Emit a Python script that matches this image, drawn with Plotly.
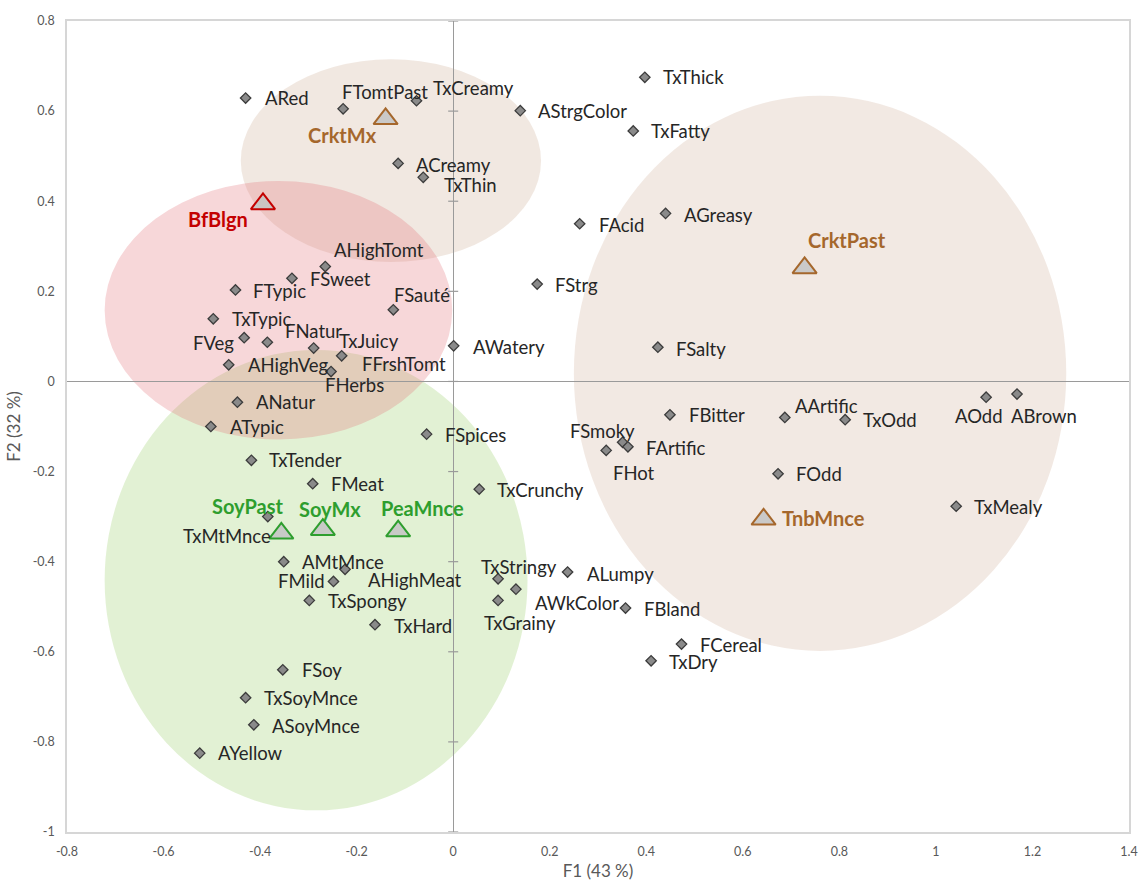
import plotly.graph_objects as go

# ---- sensory attributes (F1 / F2 coordinates) ----
attr_names = [
    "ARed", "FTomtPast", "TxCreamy", "AStrgColor", "TxThick", "TxFatty",
    "ACreamy", "TxThin", "FAcid", "AGreasy", "FStrg", "AHighTomt", "FSweet",
    "FTypic", "FSauté", "TxTypic", "FVeg", "FNatur", "TxJuicy", "FFrshTomt",
    "FHerbs", "AHighVeg", "AWatery", "FSalty", "ANatur", "ATypic", "FSpices",
    "FBitter", "AArtific", "TxOdd", "AOdd", "ABrown", "FSmoky", "FArtific",
    "FHot", "FOdd", "TxCrunchy", "TxMealy", "ALumpy", "TxStringy", "AWkColor",
    "TxGrainy", "FBland", "FCereal", "TxDry", "TxTender", "FMeat", "TxMtMnce",
    "AMtMnce", "AHighMeat", "FMild", "TxSpongy", "TxHard", "FSoy",
    "TxSoyMnce", "ASoyMnce", "AYellow",
]
attr_f1 = [
    -0.430, -0.228, -0.076, 0.139, 0.397, 0.373,
    -0.114, -0.062, 0.262, 0.440, 0.174, -0.265, -0.334,
    -0.451, -0.124, -0.497, -0.433, -0.385, -0.289, -0.231,
    -0.253, -0.465, 0.001, 0.424, -0.447, -0.502, -0.055,
    0.449, 0.687, 0.812, 1.104, 1.168, 0.351, 0.362,
    0.317, 0.673, 0.054, 1.042, 0.237, 0.093, 0.130,
    0.093, 0.357, 0.473, 0.410, -0.418, -0.291, -0.384,
    -0.351, -0.224, -0.248, -0.298, -0.162, -0.353,
    -0.430, -0.413, -0.525,
]
attr_f2 = [
    0.629, 0.605, 0.623, 0.601, 0.675, 0.556,
    0.484, 0.453, 0.350, 0.373, 0.216, 0.255, 0.229,
    0.203, 0.159, 0.139, 0.097, 0.087, 0.074, 0.057,
    0.022, 0.037, 0.079, 0.076, -0.046, -0.100, -0.117,
    -0.074, -0.080, -0.085, -0.035, -0.028, -0.135, -0.145,
    -0.153, -0.205, -0.239, -0.277, -0.423, -0.438, -0.461,
    -0.486, -0.503, -0.583, -0.620, -0.175, -0.227, -0.300,
    -0.400, -0.417, -0.444, -0.486, -0.540, -0.640,
    -0.702, -0.762, -0.825,
]

# ---- products ----
prod_names = ["CrktMx", "BfBlgn", "SoyPast", "SoyMx", "PeaMnce", "CrktPast", "TnbMnce"]
prod_f1 = [-0.140, -0.394, -0.356, -0.270, -0.114, 0.728, 0.643]
prod_f2 = [0.583, 0.394, -0.337, -0.329, -0.332, 0.252, -0.306]

# ---- confidence ellipses: centre and semi-axes ----
ell_cx = [-0.284, 0.760, -0.129, -0.362]
ell_cy = [-0.441, 0.018, 0.490, 0.158]
ell_rx = [0.438, 0.510, 0.311, 0.360]
ell_ry = [0.511, 0.616, 0.225, 0.287]

# ---- axis ticks ----
x_ticks = [-0.8, -0.6, -0.4, -0.2, 0, 0.2, 0.4, 0.6, 0.8, 1, 1.2, 1.4]
x_tick_text = ["-0.8", "-0.6", "-0.4", "-0.2", "0", "0.2", "0.4", "0.6", "0.8", "1", "1.2", "1.4"]
y_ticks = [-1, -0.8, -0.6, -0.4, -0.2, 0, 0.2, 0.4, 0.6, 0.8]
y_tick_text = ["-1", "-0.8", "-0.6", "-0.4", "-0.2", "0", "0.2", "0.4", "0.6", "0.8"]

# styling
ell_fill = ["rgba(150,205,100,0.28)", "rgba(200,165,140,0.24)",
            "rgba(200,165,140,0.26)", "rgba(225,110,120,0.28)"]
BROWN = "#a5672c"
RED = "#c40000"
GREEN = "#2e9e2e"
prod_color = {"CrktMx": BROWN, "BfBlgn": RED, "SoyPast": GREEN, "SoyMx": GREEN,
              "PeaMnce": GREEN, "CrktPast": BROWN, "TnbMnce": BROWN}

# label placement: (anchor, dx, dy) in pixels relative to the marker
attr_lab = {
    "ARed": ("l", 17, 0), "FTomtPast": ("l", -3, -17), "TxCreamy": ("l", 15, -13),
    "AStrgColor": ("l", 16, 0), "TxThick": ("l", 16, 0), "TxFatty": ("l", 16, 0),
    "ACreamy": ("l", 16, 2), "TxThin": ("l", 19, 8), "FAcid": ("l", 17, 1),
    "AGreasy": ("l", 16, 2), "FStrg": ("l", 16, 1), "AHighTomt": ("l", 7, -17),
    "FSweet": ("l", 16, 1), "FTypic": ("l", 16, 1), "FSauté": ("l", -1, -15),
    "TxTypic": ("l", 17, 0), "FVeg": ("r", -8, 5), "FNatur": ("l", 16, -11),
    "TxJuicy": ("l", 23, -7), "FFrshTomt": ("l", 18, 8), "FHerbs": ("l", -8, 13),
    "AHighVeg": ("l", 17, 0), "AWatery": ("l", 17, 1), "FSalty": ("l", 16, 2),
    "ANatur": ("l", 17, 0), "ATypic": ("l", 17, 0), "FSpices": ("l", 16, 1),
    "FBitter": ("l", 17, 0), "AArtific": ("l", 8, -11), "TxOdd": ("l", 16, 0),
    "AOdd": ("c", -7, 19), "ABrown": ("c", 27, 22), "FSmoky": ("r", 14, -11),
    "FArtific": ("l", 16, 1), "FHot": ("l", 5, 23), "FOdd": ("l", 16, 0),
    "TxCrunchy": ("l", 16, 1), "TxMealy": ("l", 16, 1), "ALumpy": ("l", 17, 2),
    "TxStringy": ("l", -19, -12), "AWkColor": ("l", 17, 14), "TxGrainy": ("l", -16, 23),
    "FBland": ("l", 16, 1), "FCereal": ("l", 16, 1), "TxDry": ("l", 16, 1),
    "TxTender": ("l", 16, 0), "FMeat": ("l", 16, 0), "TxMtMnce": ("r", 5, 19),
    "AMtMnce": ("l", 16, 0), "AHighMeat": ("l", 21, 11), "FMild": ("r", -6, 0),
    "TxSpongy": ("l", 17, 1), "TxHard": ("l", 17, 1), "FSoy": ("l", 17, 0),
    "TxSoyMnce": ("l", 16, 0), "ASoyMnce": ("l", 16, 1), "AYellow": ("l", 16, 0),
}
prod_lab = {
    "CrktMx": ("r", -7, 16), "BfBlgn": ("r", -13, 15), "SoyPast": ("r", 4, -27),
    "SoyMx": ("c", 7, -21), "PeaMnce": ("l", -19, -23), "CrktPast": ("l", 1, -28),
    "TnbMnce": ("l", 16, -1),
}
ANCHOR = {"l": "left", "r": "right", "c": "center"}

FONT = "Lato, 'Open Sans', sans-serif"

fig = go.Figure()

# ellipses (drawn beneath everything)
shapes = []
for cx, cy, rx, ry, fc in zip(ell_cx, ell_cy, ell_rx, ell_ry, ell_fill):
    shapes.append(dict(type="circle", xref="x", yref="y", layer="below",
                       x0=cx - rx, x1=cx + rx, y0=cy - ry, y1=cy + ry,
                       fillcolor=fc, line=dict(width=0)))

# small cross ticks on the vertical zero line
for yv in y_ticks:
    shapes.append(dict(type="line", xref="x", yref="y", xsizemode="pixel", xanchor=0,
                       x0=-5, x1=5, y0=yv, y1=yv, layer="above",
                       line=dict(color="#9a9a9a", width=1.2)))

fig.add_trace(go.Scatter(
    x=attr_f1, y=attr_f2, mode="markers", name="Attributes",
    marker=dict(symbol="diamond", size=8, color="#8a8a8a",
                line=dict(color="#3c3c3c", width=1.3)),
    hovertext=attr_names, hoverinfo="text", showlegend=False,
))

fig.add_trace(go.Scatter(
    x=prod_f1, y=prod_f2, mode="markers", name="Products",
    marker=dict(symbol="triangle-up", size=21, color="rgba(195,195,195,0.85)",
                line=dict(color=[prod_color[n] for n in prod_names], width=2)),
    hovertext=prod_names, hoverinfo="text", showlegend=False,
))

annotations = []
for n, xv, yv in zip(attr_names, attr_f1, attr_f2):
    a, dx, dy = attr_lab[n]
    annotations.append(dict(x=xv, y=yv, xref="x", yref="y", text=n, showarrow=False,
                            xanchor=ANCHOR[a], yanchor="middle", xshift=dx, yshift=-dy,
                            font=dict(family=FONT, size=18.5, color="#262626")))
for n, xv, yv in zip(prod_names, prod_f1, prod_f2):
    a, dx, dy = prod_lab[n]
    annotations.append(dict(x=xv, y=yv, xref="x", yref="y", text="<b>%s</b>" % n,
                            showarrow=False, xanchor=ANCHOR[a], yanchor="middle",
                            xshift=dx, yshift=-dy,
                            font=dict(family=FONT, size=20, color=prod_color[n])))

fig.update_layout(
    width=1139, height=881,
    margin=dict(l=67, r=10, t=21, b=49, autoexpand=False),
    paper_bgcolor="white", plot_bgcolor="white",
    shapes=shapes, annotations=annotations,
    font=dict(family=FONT),
)
fig.update_xaxes(
    range=[-0.8, 1.4], tickvals=x_ticks, ticktext=x_tick_text, automargin=False,
    ticklabeloverflow="allow",
    showgrid=False, zeroline=True, zerolinecolor="#9a9a9a", zerolinewidth=1.3,
    showline=True, mirror=True, linecolor="#d6d6d6", linewidth=1.5,
    ticks="outside", ticklen=7, tickcolor="rgba(0,0,0,0)",
    tickfont=dict(family=FONT, size=12.5, color="#595959"),
    title=dict(text="F1 (43 %)", font=dict(family=FONT, size=17, color="#595959"), standoff=12),
)
fig.update_yaxes(
    range=[-1, 0.8], tickvals=y_ticks, ticktext=y_tick_text, automargin=False,
    ticklabeloverflow="allow",
    showgrid=False, zeroline=True, zerolinecolor="#9a9a9a", zerolinewidth=1.3,
    showline=True, mirror=True, linecolor="#d6d6d6", linewidth=1.5,
    ticks="outside", ticklen=8, tickcolor="rgba(0,0,0,0)",
    tickfont=dict(family=FONT, size=12.5, color="#595959"),
    title=dict(text="F2 (32 %)", font=dict(family=FONT, size=17, color="#595959"), standoff=8),
)

fig.write_html("out.html")
